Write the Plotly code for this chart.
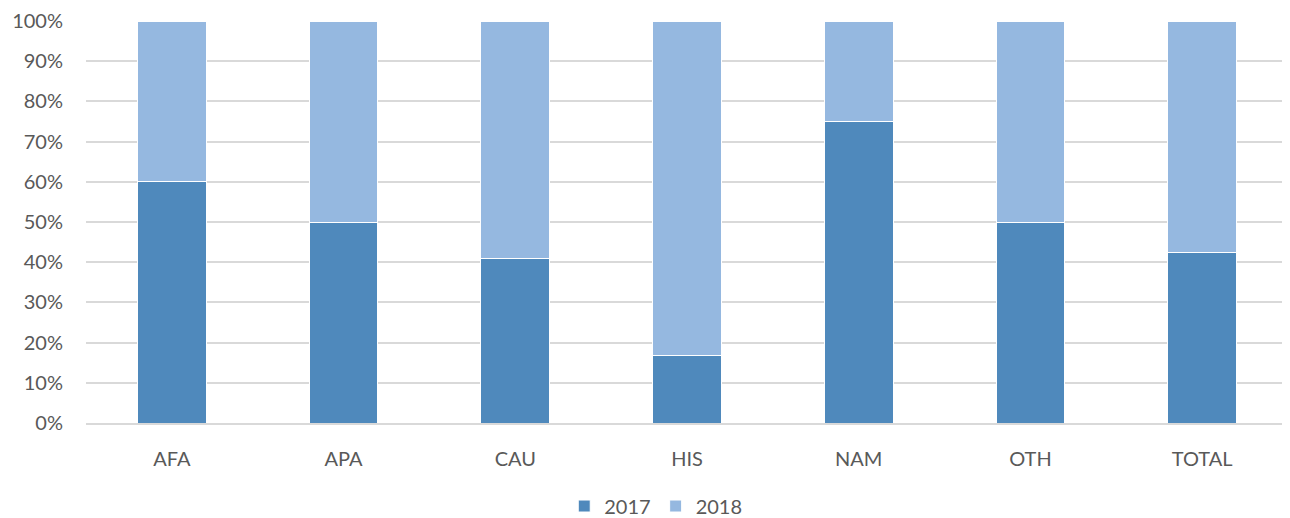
import plotly.graph_objects as go

categories = ["AFA", "APA", "CAU", "HIS", "NAM", "OTH", "TOTAL"]
share_2017 = [60.0, 50.0, 41.0, 16.7, 75.0, 50.0, 42.4]
share_2018 = [40.0, 50.0, 59.0, 83.3, 25.0, 50.0, 57.6]
tick_vals = [0, 10, 20, 30, 40, 50, 60, 70, 80, 90, 100]
tick_text = [f"{v}%" for v in tick_vals]

fig = go.Figure()
fig.add_trace(go.Bar(name="2017", x=categories, y=share_2017,
                     marker=dict(color="#4F89BC", line=dict(color="#FFFFFF", width=1))))
fig.add_trace(go.Bar(name="2018", x=categories, y=share_2018,
                     marker=dict(color="#95B8E0", line=dict(color="#FFFFFF", width=1))))

fig.update_layout(
    barmode="stack",
    bargap=0.6,
    width=1282, height=510,
    margin=dict(l=78, r=2, t=13, b=95, autoexpand=False),
    plot_bgcolor="white", paper_bgcolor="white",
    font=dict(family="Lato, Carlito, sans-serif", size=20, color="#595959"),
    showlegend=True,
    legend=dict(orientation="h", x=0.474, xanchor="center", y=-0.158, yanchor="top",
                traceorder="normal", font=dict(size=20, color="#595959"),
                itemclick=False),
    hovermode=False,
)
fig.update_yaxes(range=[0, 100], tickvals=tick_vals, ticktext=tick_text,
                 showgrid=True, gridcolor="#D9D9D9", gridwidth=1.5, automargin=False,
                 zeroline=False, showline=False, ticks="", ticklabelstandoff=22)
fig.update_xaxes(showline=True, linecolor="#D9D9D9", linewidth=1.5, ticks="",
                 automargin=False, ticklabelstandoff=17)

fig.write_html("out.html")
